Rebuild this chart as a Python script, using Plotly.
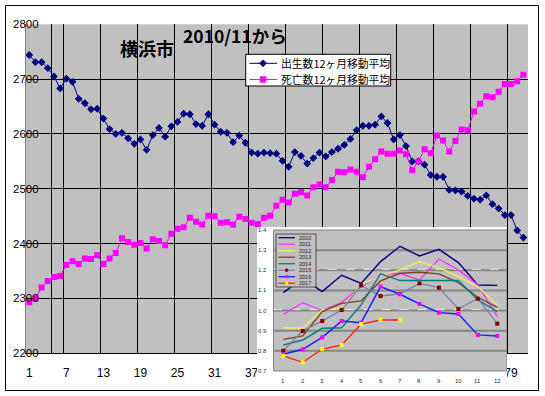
import plotly.graph_objects as go

W, H = 545, 396

# ---------------- data: main chart (12-month moving averages) ----------------
months_main = list(range(1, 82))
births = [2744, 2731, 2731, 2720, 2705, 2683, 2701, 2695, 2664, 2656,
          2645, 2646, 2628, 2609, 2600, 2602, 2592, 2582, 2590, 2571,
          2598, 2611, 2595, 2614, 2622, 2637, 2636, 2618, 2615, 2636,
          2617, 2604, 2602, 2585, 2597, 2584, 2566, 2564, 2566, 2565,
          2564, 2551, 2540, 2567, 2560, 2546, 2556, 2566, 2559, 2567,
          2573, 2580, 2591, 2607, 2615, 2615, 2617, 2632, 2620, 2590,
          2598, 2578, 2550, 2550, 2544, 2525, 2522, 2522, 2498, 2497,
          2495, 2487, 2482, 2480, 2488, 2472, 2464, 2452, 2452, 2424, 2411]
deaths = [2293, 2300, 2320, 2332, 2339, 2341, 2361, 2368, 2363, 2373,
          2372, 2379, 2363, 2373, 2383, 2410, 2403, 2398, 2401, 2391,
          2408, 2405, 2397, 2418, 2427, 2430, 2447, 2440, 2435, 2451,
          2450, 2438, 2439, 2435, 2449, 2445, 2438, 2436, 2447, 2451,
          2469, 2480, 2475, 2491, 2494, 2488, 2503, 2508, 2503, 2516,
          2531, 2530, 2535, 2531, 2521, 2540, 2554, 2568, 2564, 2564,
          2570, 2563, 2534, 2550, 2572, 2565, 2597, 2588, 2568, 2587,
          2608, 2607, 2641, 2655, 2669, 2667, 2677, 2691, 2691, 2696, 2708]
series_names = ["出生数12ヶ月移動平均", "死亡数12ヶ月移動平均"]
# tick labels every 6 months; those hidden behind the inset are not shown
x_tick_vals = [1, 7, 13, 19, 25, 31, 37, 79]
x_tick_text = [str(v) for v in x_tick_vals]
y_tick_vals = [2200, 2300, 2400, 2500, 2600, 2700, 2800]
y_tick_text = [str(v) for v in y_tick_vals]
title_city = "横浜市"
title_from = "2010/11から"

# ---------------- data: inset chart (monthly ratios by year) ----------------
inset_months = list(range(1, 13))
inset_years = ["2010", "2011", "2012", "2013", "2014", "2015", "2016", "2017"]
v2010 = [1.089, 1.16, 1.094, 1.175, 1.135, 1.243, 1.319, 1.271, 1.304, 1.238, 1.127, 1.125]
v2011 = [0.981, 1.039, 1.000, 1.041, 1.119, 1.177, 1.185, 1.152, 1.256, 1.202, 1.127, 0.970]
v2012 = [0.915, 0.912, 1.003, 1.011, 1.127, 1.172, 1.202, 1.243, 1.213, 1.169, 1.119, 1.028]
v2013 = [0.857, 0.874, 0.995, 1.036, 1.048, 1.147, 1.185, 1.190, 1.182, 1.139, 1.066, 1.016]
v2014 = [0.829, 0.854, 0.912, 0.915, 1.028, 1.182, 1.149, 1.149, 1.152, 1.149, 1.053, 0.995]
v2015 = [0.801, 0.899, 0.948, 1.003, 1.125, 1.072, 1.082, 1.135, 1.114, 1.008, 1.059, 0.935]
v2016 = [0.783, 0.808, 0.867, 0.948, 0.940, 1.119, 1.081, 1.033, 0.990, 0.983, 0.879, 0.874]
v2017 = [0.775, 0.743, 0.809, 0.829, 0.933, 0.953, 0.953]
inset_values = [v2010, v2011, v2012, v2013, v2014, v2015, v2016, v2017]
inset_y_ticks = [1.4, 1.3, 1.2, 1.1, 1.0, 0.9, 0.8, 0.7]
inset_y_text = ["1.4", "1.3", "1.2", "1.1", "1.0", "0.9", "0.8", "0.7"]

# ---------------- styles ----------------
main_colors = ["#000080", "#FF00FF"]
main_symbols = ["diamond", "square"]
inset_line_colors = ["#000080", "#FF33FF", "#EEEE66", "#804020", "#008080", "#8080B0", "#1020FF", "#FF2020"]
inset_marker_colors = [None, None, None, None, None, "#800000", "#FF00FF", "#FFFF00"]
x_grid_positions = [4.6] + [6.5 + 6 * k for k in range(13)]


def pxx(x):
    return x / W


def pxy(y):
    return 1 - y / H


JP = "Noto Sans CJK JP"
NUM = "Liberation Sans"

fig = go.Figure()
for name, vals, col, sym in zip(series_names, [births, deaths], main_colors, main_symbols):
    fig.add_trace(go.Scatter(
        x=months_main, y=vals, name=name, mode="lines+markers", showlegend=False,
        line=dict(color=col, width=1),
        marker=dict(symbol=sym, size=6, color=col)))

for yr, vals, lc, mc in zip(inset_years, inset_values, inset_line_colors, inset_marker_colors):
    fig.add_trace(go.Scatter(
        x=inset_months[:len(vals)], y=vals, name=yr, xaxis="x2", yaxis="y2",
        showlegend=False, mode="lines+markers" if mc else "lines",
        line=dict(color=lc, width=1.4),
        marker=dict(symbol="square", size=4, color=mc if mc else lc)))

shapes = []
annotations = []

# ---- main legend (drawn by hand to match the compact original) ----
shapes.append(dict(type="rect", xref="paper", yref="paper",
                   x0=pxx(245.7), x1=pxx(390.7), y0=pxy(86), y1=pxy(54.3),
                   fillcolor="white", line=dict(color="black", width=1), layer="above"))
for i, (name, col, sym) in enumerate(zip(series_names, main_colors, main_symbols)):
    yy = 63.3 + 16.2 * i
    shapes.append(dict(type="line", xref="paper", yref="paper",
                       x0=pxx(249.5), x1=pxx(277), y0=pxy(yy), y1=pxy(yy),
                       line=dict(color=col, width=1), layer="above"))
    cx = 263
    if sym == "diamond":
        d = 3.6
        path = "M {a},{b} L {c},{e} L {a},{f} L {g},{e} Z".format(
            a=pxx(cx), b=pxy(yy - d), c=pxx(cx + d), e=pxy(yy), f=pxy(yy + d), g=pxx(cx - d))
        shapes.append(dict(type="path", xref="paper", yref="paper", path=path,
                           fillcolor=col, line=dict(color=col, width=0.5), layer="above"))
    else:
        d = 3.2
        shapes.append(dict(type="rect", xref="paper", yref="paper",
                           x0=pxx(cx - d), x1=pxx(cx + d), y0=pxy(yy + d), y1=pxy(yy - d),
                           fillcolor=col, line=dict(width=0), layer="above"))
    annotations.append(dict(text=name, xref="paper", yref="paper", x=pxx(278.5), y=pxy(yy),
                            xanchor="left", yanchor="middle", showarrow=False,
                            font=dict(size=10.8, color="black", family=JP)))

# ---- inset background, plot area and gridlines (in the inset subplot layer) ----
shapes.append(dict(type="rect", xref="x2", yref="y2", x0=-2, x1=14, y0=0.4, y1=1.6,
                   fillcolor="white", line=dict(width=0), layer="below"))
shapes.append(dict(type="rect", xref="x2", yref="y2", x0=0.5, x1=12.5, y0=0.7, y1=1.4,
                   fillcolor="#C0C0C0", line=dict(color="#808080", width=1), layer="below"))
for v in inset_y_ticks[1:-1]:
    shapes.append(dict(type="line", xref="x2", yref="y2", x0=0.5, x1=12.5, y0=v, y1=v,
                       line=dict(color="#858585", width=2), layer="below"))
for v in [1.2, 1.0]:
    shapes.append(dict(type="line", xref="x2", yref="y2", x0=0.5, x1=12.5, y0=v + 0.005, y1=v + 0.005,
                       line=dict(color="#E4F0D8", width=1, dash="dash"), layer="below"))

# ---- inset legend (hand drawn, tiny) ----
shapes.append(dict(type="rect", xref="paper", yref="paper",
                   x0=pxx(276), x1=pxx(316), y0=pxy(287), y1=pxy(234),
                   fillcolor="#C0C0C0", line=dict(color="#505050", width=1), layer="above"))
for i, (yr, lc, mc) in enumerate(zip(inset_years, inset_line_colors, inset_marker_colors)):
    yy = 237.7 + 6.5 * i
    shapes.append(dict(type="line", xref="paper", yref="paper",
                       x0=pxx(278.5), x1=pxx(295), y0=pxy(yy), y1=pxy(yy),
                       line=dict(color=lc, width=1.3), layer="above"))
    if mc:
        shapes.append(dict(type="rect", xref="paper", yref="paper",
                           x0=pxx(285.2), x1=pxx(288.2), y0=pxy(yy + 1.5), y1=pxy(yy - 1.5),
                           fillcolor=mc, line=dict(width=0), layer="above"))
    annotations.append(dict(text=yr, xref="paper", yref="paper", x=pxx(297), y=pxy(yy),
                            xanchor="left", yanchor="middle", showarrow=False,
                            font=dict(size=5.5, color="#202020", family=NUM)))

# ---- inset tick labels ----
for v, t in zip(inset_y_ticks, inset_y_text):
    annotations.append(dict(text=t, xref="x2", yref="y2", x=0.5, y=v, xanchor="right",
                            yanchor="middle", xshift=-5, showarrow=False,
                            font=dict(size=6, color="#303030", family=NUM)))
for m in inset_months:
    annotations.append(dict(text=str(m), xref="x2", yref="y2", x=m, y=0.7, xanchor="center",
                            yanchor="top", yshift=-5, showarrow=False,
                            font=dict(size=6, color="#303030", family=NUM)))

# ---- main y tick labels (they overlap the plot edge in the original) ----
for v, t in zip(y_tick_vals, y_tick_text):
    annotations.append(dict(text=t, xref="paper", yref="y", x=pxx(41), y=v, xanchor="right",
                            yanchor="middle", showarrow=False,
                            font=dict(size=11.5, color="black", family=NUM)))

# ---- titles ----
annotations.append(dict(text=title_city, xref="paper", yref="paper", x=pxx(147), y=pxy(48),
                        xanchor="center", yanchor="middle", showarrow=False,
                        font=dict(size=18, color="black", family=JP, weight="bold")))
annotations.append(dict(text=title_from, xref="paper", yref="paper", x=pxx(234.5), y=pxy(35.5),
                        xanchor="center", yanchor="middle", showarrow=False,
                        font=dict(size=17.5, color="black", family=JP, weight="bold")))

# ---- outer chart border ----
shapes.append(dict(type="rect", xref="paper", yref="paper",
                   x0=pxx(5.5), x1=pxx(538.5), y0=pxy(390.5), y1=pxy(5.5),
                   line=dict(color="black", width=1), fillcolor="rgba(0,0,0,0)", layer="above"))

fig.update_layout(
    width=W, height=H, margin=dict(l=0, r=0, t=0, b=0),
    paper_bgcolor="white", plot_bgcolor="#C0C0C0",
    showlegend=False,
    xaxis=dict(domain=[pxx(26), pxx(528)], range=[0.47, 81.75],
               tickmode="array", tickvals=x_tick_vals, ticktext=x_tick_text,
               ticks="", ticklabelstandoff=8,
               tickfont=dict(size=12, color="black", family=NUM),
               showgrid=False, zeroline=False,
               showline=True, linecolor="black", linewidth=1,
               minor=dict(tickmode="array", tickvals=x_grid_positions, showgrid=True,
                          gridcolor="black", gridwidth=1, ticks="")),
    yaxis=dict(domain=[pxy(353.3), pxy(24.3)], range=[2200, 2800],
               tickmode="array", tickvals=y_tick_vals[1:-1], showticklabels=False,
               showgrid=True, gridcolor="black", gridwidth=1, zeroline=False,
               showline=True, linecolor="#808080", linewidth=1, ticks=""),
    xaxis2=dict(domain=[pxx(257), pxx(507)], range=[-0.352, 12.5], anchor="y2", visible=False),
    yaxis2=dict(domain=[pxy(389), pxy(227)], range=[0.6106, 1.4149], anchor="x2", visible=False),
    shapes=shapes, annotations=annotations,
)

fig.write_html("out.html", config={"displayModeBar": False},
               post_script="document.body.style.margin='0';")
